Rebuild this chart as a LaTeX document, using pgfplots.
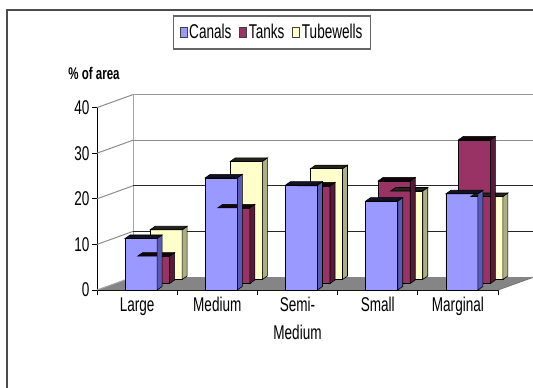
\documentclass[border=0pt]{standalone}
\usepackage{fontspec}
\setmainfont{Liberation Sans}[FakeStretch=0.68]
\usepackage{pgfplots}
\usepackage{pgfplotstable}
\pgfplotsset{compat=1.18}

\definecolor{canalF}{HTML}{9999FF}
\definecolor{canalS}{HTML}{5A5AB4}
\definecolor{tankF}{HTML}{993366}
\definecolor{tankS}{HTML}{561B39}
\definecolor{tubeF}{HTML}{FFFFCC}
\definecolor{tubeS}{HTML}{AEAE86}
\definecolor{floorC}{HTML}{858585}

% share of irrigated area by source, per farm size class
\pgfplotstableread{
x v
0 11.3
1 24.6
2 23.0
3 19.5
4 21.1
}\canals
\pgfplotstableread{
x v
0 6.0
1 16.6
2 21.4
3 22.5
4 31.5
}\tanks
\pgfplotstableread{
x v
0 10.9
1 25.9
2 24.3
3 19.4
4 18.2
}\tubewells

% a mark that draws nothing; the faces are drawn by the scatter code
\pgfdeclareplotmark{nomark}{}

\pgfplotsset{
  % right and top faces of a column, drawn from the top centre of its front face
  colfaces/.style n args={2}{
    scatter, only marks, mark=nomark, forget plot,
    visualization depends on=rawy \as \colval,
    scatter/@pre marker code/.code={%
      \pgfmathsetmacro\colh{\colval*4.5771}%
      \pgfsetlinewidth{0.6bp}%
      \pgfsetstrokecolor{black}%
      \pgfsetfillcolor{#1}%
      \pgfpathmoveto{\pgfpoint{16bp}{0pt}}%
      \pgfpathlineto{\pgfpoint{21bp}{3.5bp}}%
      \pgfpathlineto{\pgfpoint{21bp}{3.5bp-\colh pt}}%
      \pgfpathlineto{\pgfpoint{16bp}{-\colh pt}}%
      \pgfpathclose
      \pgfusepath{fill,stroke}%
      \pgfsetfillcolor{#2}%
      \pgfpathmoveto{\pgfpoint{-16bp}{0pt}}%
      \pgfpathlineto{\pgfpoint{16bp}{0pt}}%
      \pgfpathlineto{\pgfpoint{21bp}{3.5bp}}%
      \pgfpathlineto{\pgfpoint{-11bp}{3.5bp}}%
      \pgfpathclose
      \pgfusepath{fill,stroke}%
    },
    scatter/@post marker code/.code={},
  },
  colfront/.style={
    ybar, bar width=32bp, bar shift=0pt, draw=black, line width=0.6bp,
    fill=#1, forget plot,
  },
}

\newcommand\lbl{\fontsize{20}{28}\selectfont}

\begin{document}
\begin{tikzpicture}
\path[use as bounding box, clip] (0,0) rectangle (533bp,388bp);
% chart frame
\draw[line width=1.6bp, black!70] (7bp,-5bp) -- (7bp,378bp) -- (545bp,378bp);

\begin{axis}[
  at={(97bp,98bp)}, anchor=south west,
  x=80.2bp, y=4.56bp,
  xmin=-0.5, xmax=4.5, ymin=0, ymax=40,
  clip=false,
  axis x line*=bottom, axis y line*=left,
  axis line style={black, line width=1bp, -},
  ytick={0,10,20,30,40},
  xtick={-0.5,0.5,1.5,2.5,3.5,4.5},
  xticklabels={},
  extra x ticks={0,1,2,3,4},
  extra x tick labels={Large,Medium,{Semi-\\Medium},Small,Marginal},
  extra x tick style={major tick length=0pt},
  tick style={black, line width=1bp},
  major tick length=5bp, tick align=outside,
  tick label style={font=\lbl},
  xticklabel style={align=center, yshift=-4bp},
  yticklabel style={xshift=1bp},
  /pgf/number format/assume math mode=true,
  legend image code/.code={%
    \draw[#1, draw=black!75, line width=0.6bp] (0bp,-5bp) rectangle (7bp,5bp);},
  legend columns=3,
  legend style={at={(0.4365,1.412)}, anchor=center,
    draw=black!60, line width=1.2bp, font=\lbl,
    inner xsep=6bp, inner ysep=6.5bp,
    /tikz/every even column/.append style={column sep=6bp}},
]
\addlegendimage{fill=canalF}
\addlegendentry{Canals}
\addlegendimage{fill=tankF}
\addlegendentry{Tanks}
\addlegendimage{fill=tubeF}
\addlegendentry{Tubewells}

% floor
\fill[floorC] (axis cs:-0.5,0) -- (axis cs:4.5,0) -- (axis cs:4.949,2.85)
  -- (axis cs:-0.051,2.85) -- cycle;
\draw[black!55, line width=0.8bp] (axis cs:4.5,0) -- (axis cs:4.949,2.85);
% back wall edges and gridlines
\draw[black!35, line width=1bp] (axis cs:-0.051,2.85) -- (axis cs:-0.051,42.85);
\draw[black!40, line width=1.6bp] (axis cs:-0.051,42.85) -- (axis cs:5.2,42.85);
\draw[black!45, line width=1.4bp] (axis cs:-0.051,32.85) -- (axis cs:5.2,32.85);
\draw[black!85, line width=1bp] (axis cs:-0.051,22.85) -- (axis cs:5.2,22.85);
\draw[black!85, line width=1bp] (axis cs:-0.051,12.85) -- (axis cs:5.2,12.85);
% depth lines from the front axis to the back wall
\draw[black!45, line width=1bp] (axis cs:-0.5,40) -- (axis cs:-0.051,42.85);
\draw[black!45, line width=1bp] (axis cs:-0.5,30) -- (axis cs:-0.051,32.85);
\draw[black!45, line width=1bp] (axis cs:-0.5,20) -- (axis cs:-0.051,22.85);
\draw[black!45, line width=1bp] (axis cs:-0.5,10) -- (axis cs:-0.051,12.85);
\draw[black!35, line width=1bp] (axis cs:-0.5,0) -- (axis cs:-0.051,2.85);

% columns, back row first
\addplot[colfront=tubeF, xshift=29bp, yshift=10.5bp] table[x=x,y=v] {\tubewells};
\addplot[colfaces={tubeS}{black!80!tubeS}, xshift=29bp, yshift=10.5bp] table[x=x,y=v] {\tubewells};
\addplot[colfront=tankF, xshift=16.5bp, yshift=6.5bp] table[x=x,y=v] {\tanks};
\addplot[colfaces={tankS}{black!80!tankS}, xshift=16.5bp, yshift=6.5bp] table[x=x,y=v] {\tanks};
\addplot[colfront=canalF, xshift=4bp] table[x=x,y=v] {\canals};
\addplot[colfaces={canalS}{black!80!canalS}, xshift=4bp] table[x=x,y=v] {\canals};
\end{axis}

\node[font=\bfseries\fontsize{17}{20}\selectfont] at (94bp,315bp) {\% of area};
\end{tikzpicture}
\end{document}
